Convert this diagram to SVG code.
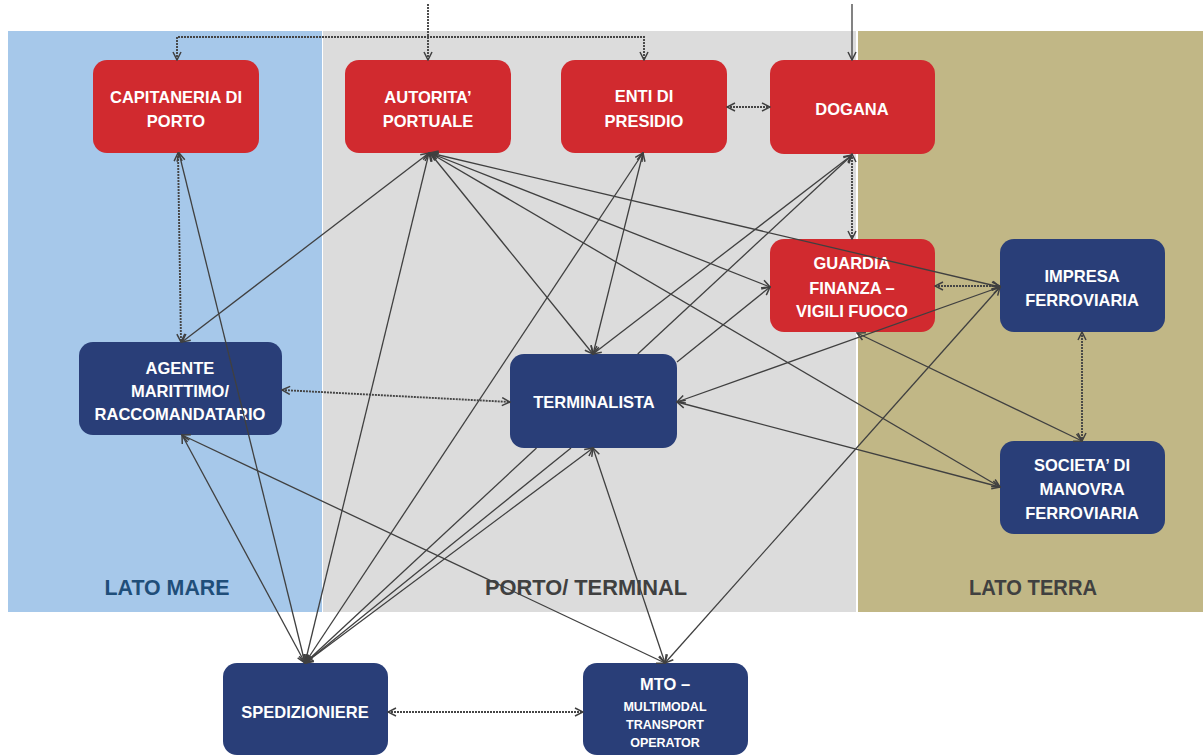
<svg xmlns="http://www.w3.org/2000/svg" width="1203" height="756" viewBox="0 0 1203 756">
<defs>
<style>
.red{fill:#D12A2F}
.navy{fill:#293E78}
.nt{font-family:"Liberation Sans",Arial,sans-serif;font-weight:bold;font-size:16.5px;fill:#FFFFFF;text-anchor:middle}
.small{font-size:12.5px}
.zone{font-family:"Liberation Sans",Arial,sans-serif;font-weight:bold;font-size:22px;text-anchor:middle}
.ln{stroke:#404040;stroke-width:1.3;fill:none}
.dl{stroke:#454545;stroke-width:1.9;fill:none;stroke-dasharray:2 1}
.both{marker-start:url(#ah);marker-end:url(#ah)}
.end{marker-end:url(#ah)}
.start{marker-start:url(#ah)}
</style>
<marker id="ah" viewBox="0 0 10 10" refX="9" refY="5" markerWidth="10" markerHeight="10" markerUnits="userSpaceOnUse" orient="auto-start-reverse">
<path d="M1,1 L9,5 L1,9" fill="none" stroke="#404040" stroke-width="1.5"/>
</marker>
</defs>
<rect width="1203" height="756" fill="#FFFFFF"/>
<g id="zones">
<rect x="8" y="31" width="314" height="581" fill="#A6C8EA"/>
<rect x="323" y="31" width="533" height="581" fill="#DCDCDC"/>
<rect x="858" y="31" width="345" height="581" fill="#C1B786"/>
<text class="zone" x="167" y="595" fill="#1F4E79" textLength="125" lengthAdjust="spacingAndGlyphs">LATO MARE</text>
<text class="zone" x="586" y="595" fill="#404040" textLength="202" lengthAdjust="spacingAndGlyphs">PORTO/ TERMINAL</text>
<text class="zone" x="1033" y="595" fill="#404040" textLength="128" lengthAdjust="spacingAndGlyphs">LATO TERRA</text>
</g>
<g id="node-capitaneria"><rect class="red" x="93" y="60" width="166" height="93" rx="14"/><text class="nt" x="176" y="103">CAPITANERIA DI</text><text class="nt" x="176" y="127">PORTO</text></g>
<g id="node-autorita"><rect class="red" x="345" y="60" width="166" height="93" rx="14"/><text class="nt" x="428" y="103">AUTORITA’</text><text class="nt" x="428" y="127">PORTUALE</text></g>
<g id="node-enti"><rect class="red" x="561" y="60" width="166" height="93" rx="14"/><text class="nt" x="644" y="102">ENTI DI</text><text class="nt" x="644" y="127">PRESIDIO</text></g>
<g id="node-dogana"><rect class="red" x="770" y="60" width="165" height="94" rx="14"/><text class="nt" x="852" y="115">DOGANA</text></g>
<g id="node-guardia"><rect class="red" x="770" y="239" width="165" height="93" rx="14"/><text class="nt" x="852" y="269">GUARDIA</text><text class="nt" x="852" y="294">FINANZA –</text><text class="nt" x="852" y="317">VIGILI FUOCO</text></g>
<g id="node-impresa"><rect class="navy" x="1000" y="239" width="165" height="93" rx="14"/><text class="nt" x="1082" y="282">IMPRESA</text><text class="nt" x="1082" y="306">FERROVIARIA</text></g>
<g id="node-agente"><rect class="navy" x="79" y="342" width="203" height="93" rx="14"/><text class="nt" x="180" y="374">AGENTE</text><text class="nt" x="180" y="397">MARITTIMO/</text><text class="nt" x="180" y="420">RACCOMANDATARIO</text></g>
<g id="node-terminalista"><rect class="navy" x="510" y="354" width="167" height="94" rx="14"/><text class="nt" x="594" y="408">TERMINALISTA</text></g>
<g id="node-societa"><rect class="navy" x="1000" y="441" width="165" height="93" rx="14"/><text class="nt" x="1082" y="471">SOCIETA’ DI</text><text class="nt" x="1082" y="495">MANOVRA</text><text class="nt" x="1082" y="519">FERROVIARIA</text></g>
<g id="node-spedizioniere"><rect class="navy" x="223" y="663" width="165" height="92" rx="14"/><text class="nt" x="305" y="718">SPEDIZIONIERE</text></g>
<g id="node-mto"><rect class="navy" x="583" y="663" width="165" height="92" rx="14"/><text class="nt" x="665" y="690">MTO –</text><text class="nt small" x="665" y="711">MULTIMODAL</text><text class="nt small" x="665" y="729">TRANSPORT</text><text class="nt small" x="665" y="747">OPERATOR</text></g>
<g id="connectors">
<path class="dl both" d="M177,60 V37 H644 V60"/>
<path class="dl end" d="M428,4 V60"/>
<path class="ln end" d="M852,4 V60"/>
<path class="dl both" d="M727,107 H770"/>
<path class="dl both" d="M852,154 V239"/>
<path class="dl both" d="M935,286 H1000"/>
<path class="dl both" d="M1082,332 V441"/>
<path class="dl both" d="M178,153 L181,342"/>
<path class="dl both" d="M388,712 H583"/>
<path class="dl both" d="M282,390 L510,402"/>
<path class="ln both" d="M429,153 L182,342"/>
<path class="ln both" d="M429,153 L305,663"/>
<path class="ln both" d="M430,153 L593,354"/>
<path class="ln both" d="M430,153 L770,287"/>
<path class="ln both" d="M430,153 L1000,287"/>
<path class="ln both" d="M430,153 L1000,487"/>
<path class="ln both" d="M643,153 L593,354"/>
<path class="ln both" d="M643,153 L305,663"/>
<path class="ln both" d="M852,155 L593,354"/>
<path class="ln start" d="M852,155 L637.7,354"/>
<path class="ln end" d="M536.5,448 L305,663"/>
<path class="ln start" d="M770,287 L677,362"/>
<path class="ln end" d="M571,448 L305,663"/>
<path class="ln both" d="M677,402 L1000,287"/>
<path class="ln both" d="M677,402 L1000,487"/>
<path class="ln both" d="M857,333 L1082,441"/>
<path class="ln both" d="M665,663 L1000,287"/>
<path class="ln both" d="M179,153 L305,663"/>
<path class="ln both" d="M182,435 L305,663"/>
<path class="ln both" d="M182,435 L665,663"/>
<path class="ln both" d="M593,448 L305,663"/>
<path class="ln both" d="M593,448 L665,663"/>
</g>
</svg>
